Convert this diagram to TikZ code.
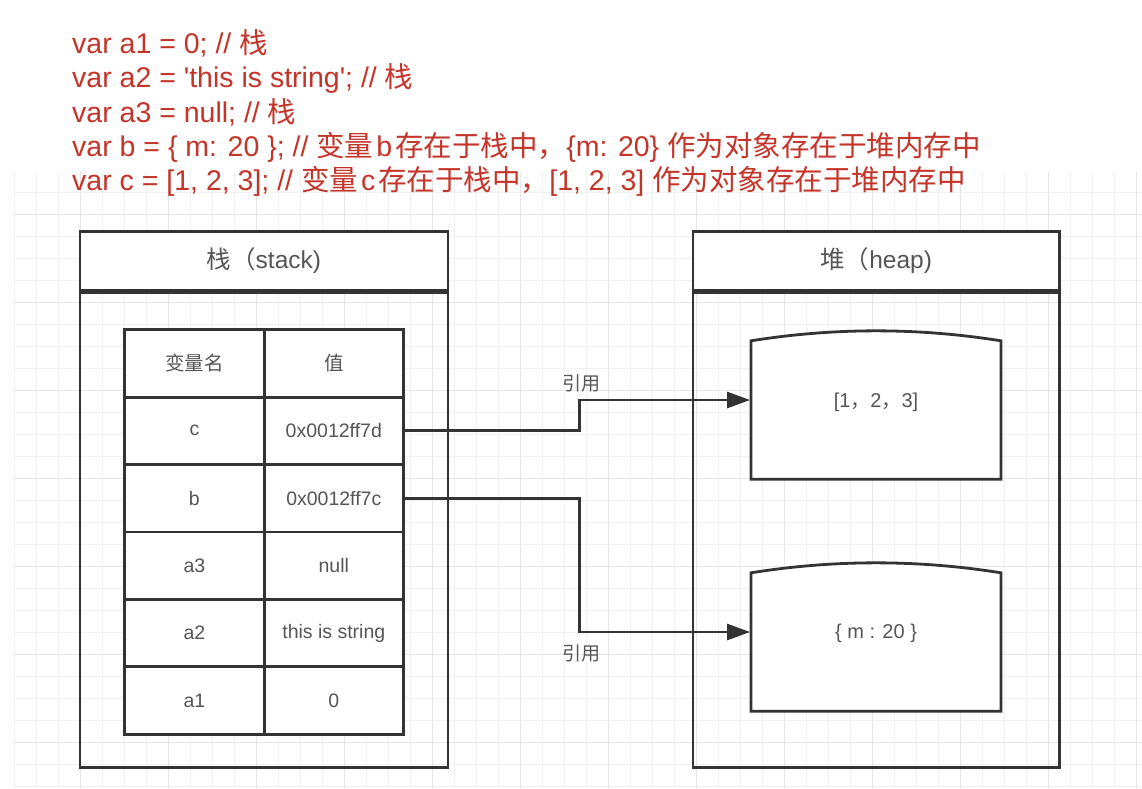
\documentclass[tikz,border=0pt]{standalone}
\usepackage{fontspec}
\setmainfont{Liberation Sans}[Ligatures=TeXOff]
\newfontfamily\cjk{Noto Sans CJK SC}
\usetikzlibrary{arrows.meta}
\definecolor{codered}{RGB}{196,52,40}
\definecolor{linegray}{RGB}{51,51,51}
\definecolor{txtgray}{RGB}{85,85,85}
\definecolor{gridminor}{RGB}{241,241,241}
\definecolor{gridmajor}{RGB}{230,230,230}
\begin{document}
\begin{tikzpicture}[x=1pt,y=-1pt,
  codeline/.style={anchor=base west, inner sep=0pt, text=codered, font=\fontsize{28.5}{34}\selectfont},
  box/.style={draw=linegray, line width=2.8pt},
  titlebox/.style={box, fill=white, anchor=north west, inner sep=0pt, text=txtgray, font=\fontsize{24.5}{26}\selectfont},
  bodybox/.style={box, anchor=north west, inner sep=0pt},
  cell/.style={box, fill=white, anchor=north west, minimum width=139.4pt, minimum height=67.4pt, inner sep=0pt, text=txtgray, font=\fontsize{19.5}{22}\selectfont},
  heapobj/.style={minimum width=249.5pt, minimum height=158pt, inner sep=0pt},
  objtext/.style={inner sep=0pt, text=txtgray, font=\fontsize{20}{22}\selectfont},
  lbl/.style={inner sep=0pt, text=txtgray, font=\fontsize{19}{22}\selectfont\cjk},
  conn/.style={draw=linegray, line width=2.8pt, -{Triangle[length=23pt,width=16pt]}, shorten >=1pt},
]
\useasboundingbox (0,0) rectangle (1142,788);
\fill[white] (0,0) rectangle (1142,788);
% grid
\begin{scope}
\clip (13.5,172) rectangle (1142,788);
\foreach \k in {0,...,51} {\draw[gridminor, line width=1pt] ({14.5+22*\k},172) -- ({14.5+22*\k},788);}
\foreach \j in {0,...,27} {\draw[gridminor, line width=1pt] (13.5,{192.3+22*\j}) -- (1142,{192.3+22*\j});}
\foreach \k in {3,7,...,51} {\draw[gridmajor, line width=1pt] ({14.5+22*\k},172) -- ({14.5+22*\k},788);}
\foreach \j in {1,5,...,25} {\draw[gridmajor, line width=1pt] (13.5,{192.3+22*\j}) -- (1142,{192.3+22*\j});}
\end{scope}
% code text
\node[codeline] (t1) at (72,53.5) {var a1 = 0; // {\cjk 栈}};
\node[codeline] (t2) at (72,87.8) {var a2 = 'this is string'; // {\cjk 栈}};
\node[codeline] (t3) at (72,122) {var a3 = null; // {\cjk 栈}};
\node[codeline] (t4) at (72,156.3) {var b = \{ m: 20 \}; // {\cjk 变量}\kern3pt b\kern3pt{\cjk 存在于栈中，}\{m: 20\} {\cjk 作为对象存在于堆内存中}};
\node[codeline] (t5) at (72,190.5) {var c = [1, 2, 3]; // {\cjk 变量}\kern3pt c\kern3pt{\cjk 存在于栈中，}[1, 2, 3] {\cjk 作为对象存在于堆内存中}};
% stack
\node[titlebox, minimum width=368pt, minimum height=58.5pt] (sh) at (78.5,230) {{\cjk 栈（}stack)};
\node[bodybox, minimum width=368pt, minimum height=474.5pt] (sb) at (sh.south west) {};
\foreach \i/\id/\nm/\vl in {0/h/{\cjk 变量名}/{\cjk 值},1/c/c/0x0012ff7d,2/b/b/0x0012ff7c,3/a3/a3/null,4/a2/a2/this is string,5/a1/a1/0}{
  \node[cell] (n\id) at (123.3,{328.3+67.4*\i}) {\nm};
  \node[cell] (v\id) at (262.7,{328.3+67.4*\i}) {\vl};
}
% heap
\node[titlebox, minimum width=366.5pt, minimum height=58.5pt] (hh) at (691.5,230) {{\cjk 堆（}heap)};
\node[bodybox, minimum width=366.5pt, minimum height=474.5pt] (hb) at (hh.south west) {};
\node[heapobj] (arr) at (876,400) {};
\draw[box, fill=white] (arr.south west) -- ([yshift=-20pt]arr.north west)
  .. controls ([xshift=83.3pt,yshift=-6.7pt]arr.north west) and ([xshift=-83.3pt,yshift=-6.7pt]arr.north east) .. ([yshift=-20pt]arr.north east)
  -- (arr.south east) -- cycle;
\node[objtext] (arrtxt) at ([yshift=-2pt]arr.center) {[1{\cjk ，}2{\cjk ，}3]};
\node[heapobj] (obj) at (876,632) {};
\draw[box, fill=white] (obj.south west) -- ([yshift=-20pt]obj.north west)
  .. controls ([xshift=83.3pt,yshift=-6.7pt]obj.north west) and ([xshift=-83.3pt,yshift=-6.7pt]obj.north east) .. ([yshift=-20pt]obj.north east)
  -- (obj.south east) -- cycle;
\node[objtext] (objtxt) at ([yshift=-1pt]obj.center) {\{ m : 20 \}};
% connectors
\draw[conn] (vc.east) -- ++(174.3,0) |- (arr.west);
\draw[conn] (vb.east) -- ++(174.3,0) |- (obj.west);
\node[lbl] (l1) at (581,383) {引用};
\node[lbl] (l2) at (581,653) {引用};
\end{tikzpicture}
\end{document}
